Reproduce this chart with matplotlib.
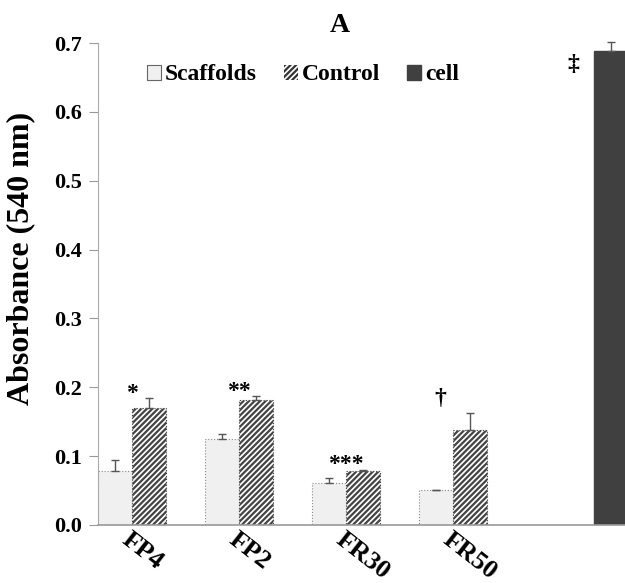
import numpy as np
import matplotlib
matplotlib.use("Agg")
import matplotlib.pyplot as plt
from matplotlib.patches import Patch
from matplotlib.transforms import ScaledTranslation

# datos
muestras = ["FP4", "FP2", "FR30", "FR50"]
scaffolds = [0.078, 0.125, 0.061, 0.051]
scaffolds_err = [0.016, 0.007, 0.007, 0.0]
control = [0.170, 0.181, 0.079, 0.138]
control_err = [0.014, 0.006, 0.001, 0.025]
cell = [0.688]
cell_err = [0.013]
marcas = ["*", "**", "***", "\u2020"]
marca_cell = "\u2021"

plt.rcParams["font.family"] = ["Liberation Serif", "DejaVu Serif"]
plt.rcParams["font.weight"] = "bold"
plt.rcParams["hatch.linewidth"] = 1.6
plt.rcParams["hatch.color"] = "#333333"

fig = plt.figure(figsize=(6.25, 5.83), dpi=100)
ax = fig.add_axes([98 / 625, 1 - 525 / 583, 1 - 98 / 625, (525 - 43) / 583])

w = 0.318
x = np.arange(len(muestras))
err_kw = dict(ecolor="#555555", elinewidth=1, capsize=3, capthick=1)

ax.bar(x - w / 2, scaffolds, w, color="#f0f0f0", edgecolor="#888888",
       linestyle=":", linewidth=0.8,
       yerr=[np.zeros(len(x)), scaffolds_err], error_kw=err_kw)
ax.bar(x + w / 2, control, w, color="white", edgecolor="#444444",
       linestyle=":", linewidth=0.8, hatch="//////",
       yerr=[np.zeros(len(x)), control_err], error_kw=err_kw)
b = ax.bar([4 + 1.5 * w], cell, w, color="#404040", edgecolor="#404040",
           yerr=[[0], cell_err], error_kw=err_kw)
for art in b.errorbar.lines[1] + b.errorbar.lines[2]:
    art.set_clip_on(False)

# marcas de significancia
for i, m in enumerate(marcas):
    tope = control[i] + control_err[i]
    if m == "\u2020":
        ax.text(i - 0.12, tope + 0.005, m, ha="center", va="bottom", fontsize=17)
    else:
        ax.text(i, tope - 0.008, m, ha="center", va="bottom", fontsize=17)
ax.text(4.12, cell[0] - 0.035, marca_cell, ha="center", va="bottom", fontsize=17)

ax.set_xlim(-w, 4.607)
ax.set_ylim(0, 0.7)
ax.set_yticks(np.arange(0, 0.71, 0.1))
ax.set_yticklabels([f"{v:.1f}" for v in np.arange(0, 0.71, 0.1)], fontsize=16)
ax.set_xticks(x)
ax.set_xticklabels(muestras, fontsize=19, rotation=-38, ha="left",
                   rotation_mode="anchor")
for lab in ax.get_xticklabels():
    lab.set_transform(lab.get_transform() + ScaledTranslation(-0.27, -0.1, fig.dpi_scale_trans))
ax.tick_params(axis="x", length=0, pad=2)
ax.tick_params(axis="y", length=6.5, color="#999999", width=0.8, pad=5)

ax.spines["top"].set_visible(False)
ax.spines["right"].set_visible(False)
ax.spines["left"].set_color("#aaaaaa")
ax.spines["left"].set_linewidth(0.8)
ax.spines["bottom"].set_color("#999999")
ax.spines["bottom"].set_linewidth(1.2)

handles = [
    Patch(facecolor="#f0f0f0", edgecolor="#666666", linewidth=0.8),
    Patch(facecolor="white", edgecolor="#333333", linewidth=0, hatch="//////"),
    Patch(facecolor="#404040", edgecolor="#404040"),
]
ax.legend(handles, ["Scaffolds", "Control", "cell"], ncol=3, frameon=False,
          loc="center left", bbox_to_anchor=((147 - 98) / 527 - 0.04, (525 - 75) / 482),
          fontsize=17, handlelength=0.6, handleheight=0.6, handletextpad=0.15,
          columnspacing=1.15)

fig.text(340 / 625, 1 - 25 / 583, "A", ha="center", va="center", fontsize=20)
fig.text(21 / 625, 1 - 258 / 583, "Absorbance (540 nm)", ha="center",
         va="center", rotation=90, fontsize=23)

fig.savefig("out.png", dpi=100)
